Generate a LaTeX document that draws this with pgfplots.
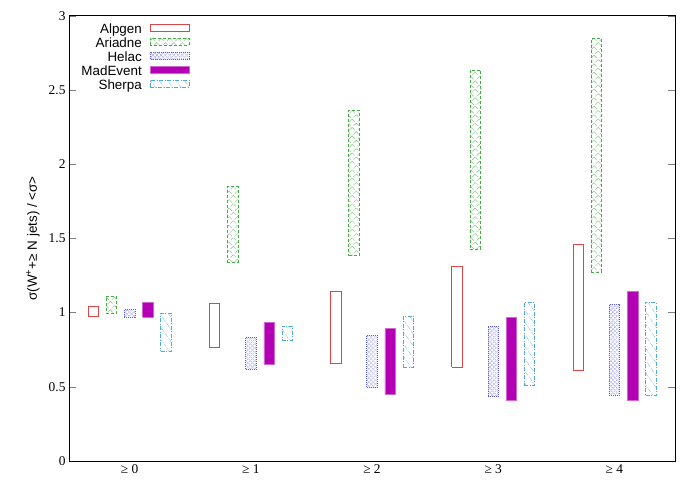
\documentclass[border=0pt]{standalone}
\usepackage{fontspec}
\setmainfont{Liberation Serif}
\newfontfamily\arial{Liberation Sans}
\usepackage{pgfplots}
\pgfplotsset{compat=1.18}
\usetikzlibrary{patterns,patterns.meta}

\definecolor{alpgen}{RGB}{220,70,70}
\definecolor{ariadne}{RGB}{70,170,70}
\definecolor{helac}{RGB}{90,90,220}
\definecolor{madevent}{RGB}{180,0,180}
\definecolor{sherpa}{RGB}{80,170,215}

\begin{document}
\begin{tikzpicture}
\useasboundingbox (-69pt,-27pt) rectangle (629pt,461pt);
\begin{axis}[
  scale only axis, width=606pt, height=445.3pt,
  at={(0pt,0pt)}, anchor=south west,
  xmin=-0.5, xmax=4.5, ymin=0, ymax=3,
  xtick={0,1,2,3,4},
  xticklabels={≥ 0,≥ 1,≥ 2,≥ 3,≥ 4},
  ytick={0,0.5,1,1.5,2,2.5,3},
  xtick style={draw=none},
  major tick length=7pt, tick align=inside,
  axis line style={line width=0.8pt},
  tick label style={font=\fontsize{13.4}{15}\selectfont},
  /pgf/number format/assume math mode=true,
  unbounded coords=jump,
  ylabel={\arial σ(W\textsuperscript{+}+≥ N jets) / <σ>},
  ylabel style={font=\fontsize{13.4}{15}\selectfont, at={(axis description cs:-0.0594,0.5)}, anchor=center},
  legend plot pos=right, legend cell align=right,
  legend image code/.code={\draw[#1] (0pt,-1pt) rectangle (39pt,6pt);},
  legend style={draw=none, fill=none, font=\arial\fontsize{13.4}{15}\selectfont,
    at={(rel axis cs:0.204,0.9885)}, anchor=north east,
    nodes={text height=9.5pt, text depth=2.5pt, inner sep=1pt},
    row sep=0pt, column sep=7pt},
]
% Alpgen
\addplot[draw=alpgen, line width=0.6pt] coordinates {
(-0.343,0.973) (-0.257,0.973) (-0.257,1.044) (-0.343,1.044) (-0.343,0.973) (nan,nan)
(0.657,0.765) (0.743,0.765) (0.743,1.060) (0.657,1.060) (0.657,0.765) (nan,nan)
(1.657,0.657) (1.743,0.657) (1.743,1.140) (1.657,1.140) (1.657,0.657) (nan,nan)
(2.657,0.630) (2.743,0.630) (2.743,1.309) (2.657,1.309) (2.657,0.630) (nan,nan)
(3.657,0.612) (3.743,0.612) (3.743,1.460) (3.657,1.460) (3.657,0.612)
};
\addlegendentry{Alpgen}
% Ariadne
\addplot[draw=ariadne, line width=0.6pt, dash pattern=on 3pt off 2pt,
  pattern={Hatch[angle=45,distance=6pt,line width=0.4pt]}, pattern color=ariadne!70] coordinates {
(-0.193,0.993) (-0.107,0.993) (-0.107,1.110) (-0.193,1.110) (-0.193,0.993) (nan,nan)
(0.807,1.336) (0.893,1.336) (0.893,1.848) (0.807,1.848) (0.807,1.336) (nan,nan)
(1.807,1.383) (1.893,1.383) (1.893,2.364) (1.807,2.364) (1.807,1.383) (nan,nan)
(2.807,1.428) (2.893,1.428) (2.893,2.635) (2.807,2.635) (2.807,1.428) (nan,nan)
(3.807,1.273) (3.893,1.273) (3.893,2.845) (3.807,2.845) (3.807,1.273)
};
\addlegendentry{Ariadne}
% Helac
\addplot[draw=helac, line width=0.6pt, dash pattern=on 1pt off 1pt,
  pattern={Hatch[angle=45,distance=3pt,line width=0.4pt]}, pattern color=helac!60] coordinates {
(-0.043,0.966) (0.043,0.966) (0.043,1.022) (-0.043,1.022) (-0.043,0.966) (nan,nan)
(0.957,0.617) (1.043,0.617) (1.043,0.834) (0.957,0.834) (0.957,0.617) (nan,nan)
(1.957,0.495) (2.043,0.495) (2.043,0.847) (1.957,0.847) (1.957,0.495) (nan,nan)
(2.957,0.433) (3.043,0.433) (3.043,0.908) (2.957,0.908) (2.957,0.433) (nan,nan)
(3.957,0.444) (4.043,0.444) (4.043,1.054) (3.957,1.054) (3.957,0.444)
};
\addlegendentry{Helac}
% MadEvent
\addplot[draw=madevent!60, line width=0.4pt, fill=madevent] coordinates {
(0.107,0.970) (0.193,0.970) (0.193,1.067) (0.107,1.067) (0.107,0.970) (nan,nan)
(1.107,0.650) (1.193,0.650) (1.193,0.935) (1.107,0.935) (1.107,0.650) (nan,nan)
(2.107,0.451) (2.193,0.451) (2.193,0.892) (2.107,0.892) (2.107,0.451) (nan,nan)
(3.107,0.410) (3.193,0.410) (3.193,0.966) (3.107,0.966) (3.107,0.410) (nan,nan)
(4.107,0.410) (4.193,0.410) (4.193,1.145) (4.107,1.145) (4.107,0.410)
};
\addlegendentry{MadEvent}
% Sherpa
\addplot[draw=sherpa, line width=0.6pt, dash pattern=on 4pt off 1.5pt on 1pt off 1.5pt,
  pattern={Lines[angle=-55,distance=7pt,line width=0.4pt]}, pattern color=sherpa!70] coordinates {
(0.257,0.740) (0.343,0.740) (0.343,0.997) (0.257,0.997) (0.257,0.740) (nan,nan)
(1.257,0.814) (1.343,0.814) (1.343,0.908) (1.257,0.908) (1.257,0.814) (nan,nan)
(2.257,0.630) (2.343,0.630) (2.343,0.977) (2.257,0.977) (2.257,0.630) (nan,nan)
(3.257,0.511) (3.343,0.511) (3.343,1.067) (3.257,1.067) (3.257,0.511) (nan,nan)
(4.257,0.444) (4.343,0.444) (4.343,1.071) (4.257,1.071) (4.257,0.444)
};
\addlegendentry{Sherpa}
\end{axis}
\end{tikzpicture}
\end{document}
